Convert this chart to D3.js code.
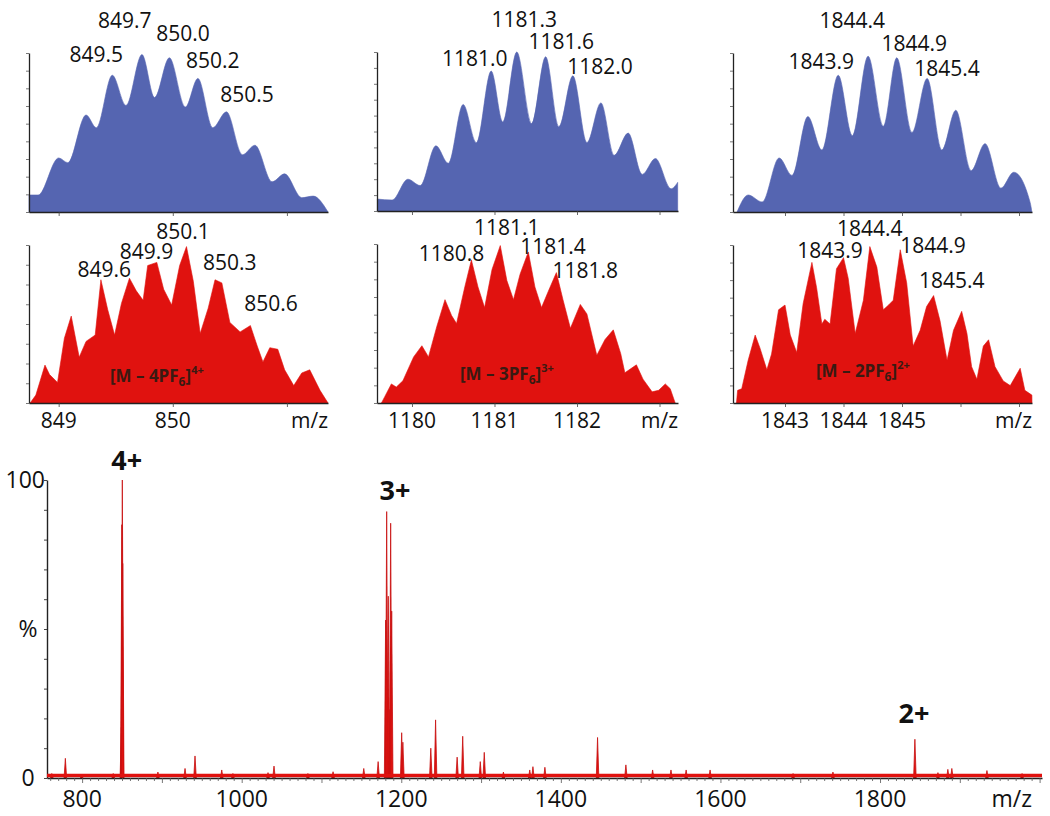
<!DOCTYPE html>
<html><head><meta charset="utf-8">
<script src="https://cdn.jsdelivr.net/npm/d3@7"></script>
<style>
body{margin:0;background:#fff}
svg{display:block}
text{font-family:"Open Sans",sans-serif}
</style>
</head><body>
<svg id="chart" width="1050" height="816"></svg>
<script>
// ---------------- DATA ----------------
// Simulated isotope patterns (blue): [m/z, relative intensity %]
const blue4 = [[848.74,10.7],[848.82,10.7],[849.00,34],[849.08,31],[849.24,61],[849.33,53],[849.47,86],[849.59,67],[849.73,99],[849.84,72],[849.97,97],[850.11,66],[850.22,84],[850.35,53],[850.47,63],[850.61,36],[850.72,42],[850.87,19],[850.98,24],[851.13,9],[851.23,10],[851.36,0]];
const blue3 = [[1179.58,7.5],[1179.76,6.9],[1179.95,20],[1180.10,16],[1180.29,41],[1180.44,30],[1180.62,67],[1180.78,43],[1180.96,88],[1181.10,56],[1181.27,100],[1181.45,55],[1181.62,97],[1181.78,53],[1181.95,85],[1182.12,43],[1182.29,68],[1182.45,35],[1182.62,49],[1182.79,23],[1182.95,33],[1183.14,14],[1183.22,18]];
const blue2 = [[1842.18,0],[1842.37,10.7],[1842.61,6.3],[1842.90,34],[1843.12,23],[1843.39,60],[1843.63,39],[1843.91,86],[1844.15,48],[1844.42,98],[1844.68,54],[1844.91,97],[1845.17,50],[1845.43,84],[1845.68,39],[1845.92,64],[1846.18,26],[1846.42,43],[1846.69,15],[1846.91,25],[1847.19,6],[1847.22,0]];

// Experimental isotope patterns (red)
const red4 = [[848.75,0],[848.80,5],[848.88,24],[848.92,18],[848.99,13],[849.05,41],[849.11,55],[849.18,29],[849.24,39],[849.32,43],[849.37,78],[849.43,59],[849.49,43],[849.55,63],[849.62,79],[849.68,71],[849.74,65],[849.78,87],[849.86,89],[849.92,72],[849.99,62],[850.06,87],[850.12,99],[850.18,77],[850.24,44],[850.31,60],[850.37,78],[850.43,76],[850.50,51],[850.59,45],[850.68,49],[850.74,36],[850.79,26],[850.85,35],[850.92,34],[850.98,21],[851.06,11],[851.13,19],[851.20,21],[851.29,8],[851.36,0]];
const red3 = [[1179.63,0],[1179.67,4],[1179.75,12],[1179.81,10],[1179.89,14],[1180.02,29],[1180.12,36],[1180.20,29],[1180.30,48],[1180.40,65],[1180.48,55],[1180.54,50],[1180.64,73],[1180.72,90],[1180.80,73],[1180.88,60],[1180.97,84],[1181.07,99],[1181.15,77],[1181.23,65],[1181.31,81],[1181.41,95],[1181.49,73],[1181.57,60],[1181.65,70],[1181.75,82],[1181.83,65],[1181.92,47],[1182.04,62],[1182.12,56],[1182.24,30],[1182.34,40],[1182.44,46],[1182.53,31],[1182.58,19],[1182.72,24],[1182.80,15],[1182.91,7],[1182.99,8],[1183.07,12],[1183.13,9],[1183.19,0]];
const red2 = [[1842.17,0],[1842.19,8],[1842.26,9],[1842.37,27],[1842.49,43],[1842.57,35],[1842.69,21],[1842.77,31],[1842.89,59],[1843.00,62],[1843.09,43],[1843.20,32],[1843.31,63],[1843.46,89],[1843.54,73],[1843.63,50],[1843.68,53],[1843.77,50],[1843.88,85],[1844.00,92],[1844.08,79],[1844.20,44],[1844.34,65],[1844.45,99],[1844.57,86],[1844.68,59],[1844.77,62],[1844.85,65],[1844.97,97],[1845.08,76],[1845.19,36],[1845.31,46],[1845.42,61],[1845.54,68],[1845.65,52],[1845.77,27],[1845.88,46],[1846.02,58],[1846.11,44],[1846.19,23],[1846.28,15],[1846.39,36],[1846.48,40],[1846.59,23],[1846.73,14],[1846.85,11],[1847.02,22],[1847.10,8],[1847.22,5],[1847.222,0]];

// Peak labels: [text, m/z anchor, intensity anchor]
const blue4Labels = [["849.7",849.58,115.7],["850.0",850.09,107.7],["849.5",849.33,94.5],["850.2",850.35,90.4],["850.5",850.65,69.4]];
const blue3Labels = [["1181.3",1181.36,116],["1181.0",1180.76,91],["1181.6",1181.81,102],["1182.0",1182.28,86]];
const blue2Labels = [["1844.4",1844.15,115.5],["1844.9",1845.21,101],["1843.9",1843.62,90],["1845.4",1845.77,85.5]];
const red4Labels = [["849.6",849.40,80],["849.9",849.77,91],["850.1",850.09,103.6],["850.3",850.50,84],["850.6",850.86,58]];
const red3Labels = [["1181.1",1181.15,105.7],["1180.8",1180.48,89],["1181.4",1181.71,94],["1181.8",1182.10,78.6]];
const red2Labels = [["1844.4",1844.45,106],["1843.9",1843.77,91.5],["1844.9",1845.53,94.7],["1845.4",1845.85,72.6]];

// Ion labels: [charge count, sup, m/z, intensity]
const ionLabels = [["4","4+",849.86,13.5],["3","3+",1181.15,14.5],["2","2+",1844.33,16.6]];

// Inset axes
const insetDomains = [[848.74,851.36],[1179.576,1183.224],[1842.111,1847.222]];
const insetTicks = [[849,850,851],[1180,1181,1182,1183],[1843,1844,1845,1846,1847]];
const insetTickLabels = [[849,850],[1180,1181,1182],[1843,1844,1845]];

// Full spectrum sticks: [m/z, intensity %]
const spectrumPeaks = [[762,1.5],[779,6.6],[799.5,1],[839,1.5],
 [849.2,17],[849.8,85],[850.4,100],[850.9,72],
 [895,2],[929,3.2],[941.5,7.4],[975,2.7],[989,1.5],[1033,1.8],[1040.5,4],[1083,1.5],[1114.5,2.1],
 [1153,3.2],[1171,5.5],
 [1180.4,53],[1181.7,89.4],[1183.7,61],[1185.8,23],[1186.7,85.5],[1188,56],
 [1200.5,15.2],[1202,12],[1237,10],[1243,19.5],[1270,7],[1277,14],[1299,5.5],[1304,8.6],[1328,2],
 [1361,2.7],[1365,3.8],[1380,3.6],[1446,13.6],[1481.5,4.4],[1515,2.7],[1538,2.7],[1557,2.7],
 [1587,2.7],[1691,1.5],[1741,2],[1843.7,13],[1872.6,1.8],[1885,2.9],[1890,3.2],[1934,2.5],[1978,1.5]];
const spectrumDomain = [756, 2003];
const spectrumTickLabels = [800,1000,1200,1400,1600,1800];
const chargeLabels = [["4+",856,103.4],["3+",1192,93.3],["2+",1842.5,18.5]];

// ---------------- LAYOUT / STYLE ----------------
const W = 1050, H = 816;
const insetX = [[29,328],[377,678],[733,1032]];
const blueY = [[212,53],[211,52],[212,53]];
const redY = [[403,245],[403,244],[403,245]];
const blueYTickN = [9,10,9];
const redYTickN = [8,9,9];
const BLUE = "#5565b1", RED = "#e0120f", AXIS = "#222";

const svg = d3.select("#chart");
svg.append("rect").attr("width",W).attr("height",H).attr("fill","#fff");

function drawInset(i, data, labels, color, yr, nTicks, isRed){
  const x = d3.scaleLinear().domain(insetDomains[i]).range(insetX[i]);
  const y = d3.scaleLinear().domain([0,100]).range(yr);
  const g = svg.append("g");
  const area = d3.area()
    .x(d=>x(d[0])).y0(y(0)).y1(d=>y(d[1]))
    .curve(isRed ? d3.curveLinear : d3.curveMonotoneX);
  g.append("path").datum(data).attr("d",area).attr("fill",color)
    .attr("stroke",color).attr("stroke-width",0.6);
  // y axis
  const ya = d3.axisLeft(y).tickValues(d3.range(nTicks+1).map(k=>k*100/nTicks))
     .tickSize(3).tickSizeOuter(0).tickFormat("");
  const yg = g.append("g").attr("transform",`translate(${insetX[i][0]},0)`).call(ya);
  yg.select(".domain").attr("stroke",AXIS).attr("stroke-width",1.3);
  yg.selectAll(".tick line").attr("stroke","#555").attr("stroke-width",0.8);
  // x axis
  const xa = d3.axisBottom(x).tickValues(insetTicks[i]).tickSize(4).tickSizeOuter(0).tickFormat("");
  const xg = g.append("g").attr("transform",`translate(0,${yr[0]})`).call(xa);
  xg.select(".domain").attr("stroke",AXIS).attr("stroke-width",1.3);
  xg.selectAll(".tick line").attr("stroke","#444").attr("stroke-width",0.8);
  // peak labels
  g.selectAll("text.pk").data(labels).enter().append("text").attr("class","pk")
    .attr("x",d=>x(d[1])).attr("y",d=>y(d[2])).attr("text-anchor","middle")
    .attr("font-size",21).attr("fill","#111").text(d=>d[0]);
  if(isRed){
    g.selectAll("text.tl").data(insetTickLabels[i]).enter().append("text").attr("class","tl")
      .attr("x",d=>x(d)).attr("y",428).attr("text-anchor","middle")
      .attr("font-size",21).attr("fill","#111").text(d=>d);
    g.append("text").attr("x",insetX[i][1]).attr("y",428).attr("text-anchor","end")
      .attr("font-size",21).attr("fill","#111").text("m/z");
    const ion = ionLabels[i];
    const t = g.append("text").attr("x",x(ion[2])).attr("y",y(ion[3]))
      .attr("text-anchor","middle").attr("font-size",17).attr("font-weight","bold").attr("fill","#3a1a12");
    t.append("tspan").text(`[M \u2013 ${ion[0]}PF`);
    t.append("tspan").attr("font-size",12).attr("dy",4).text("6");
    t.append("tspan").attr("dy",-4).text("]");
    t.append("tspan").attr("font-size",11).attr("dy",-8).text(ion[1]);
  }
}

const blues = [blue4, blue3, blue2], reds = [red4, red3, red2];
const bl = [blue4Labels, blue3Labels, blue2Labels], rl = [red4Labels, red3Labels, red2Labels];
for(let i=0;i<3;i++){
  drawInset(i, blues[i], bl[i], BLUE, blueY[i], blueYTickN[i], false);
  drawInset(i, reds[i], rl[i], RED, redY[i], redYTickN[i], true);
}

// ---------------- FULL SPECTRUM ----------------
const sx = d3.scaleLinear().domain(spectrumDomain).range([47,1042]);
const sy = d3.scaleLinear().domain([0,100]).range([778,480]);
const sg = svg.append("g");

// y axis
const sya = d3.axisLeft(sy).tickValues(d3.range(0,101,10)).tickSize(3).tickSizeOuter(0).tickFormat("");
const syg = sg.append("g").attr("transform","translate(47,0)").call(sya);
syg.select(".domain").attr("stroke",AXIS).attr("stroke-width",1.4);
syg.selectAll(".tick line").attr("stroke","#444");

// baseline noise band + sticks
const peakW = 1.6;
const stick = d3.area().x(d=>sx(d[0])).y0(sy(0)).y1(d=>sy(d[1]));
sg.selectAll("path.pk").data(spectrumPeaks).enter().append("path").attr("class","pk")
  .attr("d",d=>stick([[d[0]-peakW,0],[d[0],d[1]],[d[0]+peakW,0]]))
  .attr("fill",RED).attr("stroke","#c81010").attr("stroke-width",0.8);
sg.append("path").datum(spectrumDomain)
  .attr("d",d3.line().x(d=>sx(d)).y(()=>sy(0.8)))
  .attr("stroke",RED).attr("stroke-width",3.5);

// x axis
const sxa = d3.axisBottom(sx).tickValues(d3.range(760,2001,10)).tickSize(3).tickSizeOuter(0).tickFormat("");
const sxg = sg.append("g").attr("transform","translate(0,778)").call(sxa);
sxg.select(".domain").attr("stroke",AXIS).attr("stroke-width",1.4);
sxg.selectAll(".tick line").attr("stroke","#555").attr("stroke-width",0.8)
  .attr("y2",d=>d%100===0?5:3);

sg.selectAll("text.xl").data(spectrumTickLabels).enter().append("text").attr("class","xl")
  .attr("x",d=>sx(d)).attr("y",807).attr("text-anchor","middle")
  .attr("font-size",23).attr("fill","#111").text(d=>d);
sg.append("text").attr("x",1032).attr("y",807).attr("text-anchor","end")
  .attr("font-size",23).attr("fill","#111").text("m/z");
sg.append("text").attr("x",45).attr("y",sy(100)+8).attr("text-anchor","end")
  .attr("font-size",23).attr("fill","#111").text("100");
sg.append("text").attr("x",28).attr("y",sy(50)+8).attr("text-anchor","middle")
  .attr("font-size",23).attr("fill","#111").text("%");
sg.append("text").attr("x",28).attr("y",sy(0)+8).attr("text-anchor","middle")
  .attr("font-size",23).attr("fill","#111").text("0");

sg.selectAll("text.ch").data(chargeLabels).enter().append("text").attr("class","ch")
  .attr("x",d=>sx(d[1])).attr("y",d=>sy(d[2])).attr("text-anchor","middle")
  .attr("font-size",27).attr("font-weight","bold").attr("fill","#111").text(d=>d[0]);
</script>
</body></html>
